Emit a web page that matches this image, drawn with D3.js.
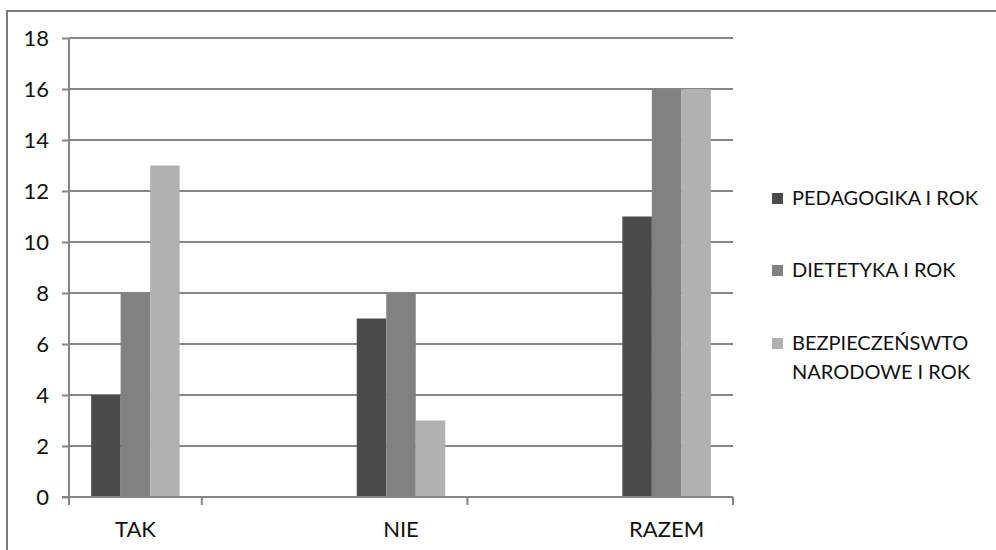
<!DOCTYPE html>
<html>
<head>
<meta charset="utf-8">
<script src="https://cdn.jsdelivr.net/npm/d3@7"></script>
<style>
  html, body { margin: 0; padding: 0; background: #fff; }
  svg { display: block; }
</style>
</head>
<body>
<svg id="chart" width="996" height="550"></svg>
<script>
const categories = ["TAK", "NIE", "RAZEM"];
const seriesNames = ["PEDAGOGIKA I ROK", "DIETETYKA I ROK", "BEZPIECZEŃSWTO NARODOWE I ROK"];
const legendLines = [["PEDAGOGIKA I ROK"], ["DIETETYKA I ROK"], ["BEZPIECZEŃSWTO", "NARODOWE I ROK"]];
const pedagogika = [4, 7, 11];
const dietetyka = [8, 8, 16];
const bezpieczenstwo = [13, 3, 16];
const yTicks = [0, 2, 4, 6, 8, 10, 12, 14, 16, 18];
const colors = ["#4b4b4b", "#818181", "#b1b1b1"];

const seriesValues = [pedagogika, dietetyka, bezpieczenstwo];

const svg = d3.select("#chart");
const font = "Lato, 'Open Sans', sans-serif";
const textColor = "#111";

// outer frame (left and top edges visible)
svg.append("path")
  .attr("d", "M7,550 V11 H996")
  .attr("fill", "none")
  .attr("stroke", "#7a7a7a")
  .attr("stroke-width", 2);

const plotLeft = 69, plotRight = 733, plotTop = 38, plotBottom = 497;
const step = (plotRight - plotLeft) / 2.5;

const x = d3.scaleBand()
  .domain(categories)
  .range([plotLeft - 0.25 * step, plotRight + 0.25 * step])
  .paddingInner(0).paddingOuter(0);

const barW = 29.5;
const xs = d3.scaleBand()
  .domain(seriesNames)
  .range([x.bandwidth() / 2 - 1.5 * barW, x.bandwidth() / 2 + 1.5 * barW]);

const y = d3.scaleLinear().domain([0, 18]).range([plotBottom, plotTop]);

const lineColor = "#858585";

// gridlines
svg.append("g").selectAll("line")
  .data(yTicks.filter(d => d > 0))
  .join("line")
  .attr("x1", plotLeft).attr("x2", plotRight)
  .attr("y1", d => y(d)).attr("y2", d => y(d))
  .attr("stroke", lineColor).attr("stroke-width", 2);

// bars
const g = svg.append("g");
categories.forEach((c, ci) => {
  seriesNames.forEach((s, si) => {
    const v = seriesValues[si][ci];
    g.append("rect")
      .attr("x", x(c) + xs(s))
      .attr("y", y(v))
      .attr("width", xs.bandwidth())
      .attr("height", y(0) - y(v))
      .attr("fill", colors[si]);
  });
});

// y axis
const yAxis = d3.axisLeft(y).tickValues(yTicks).tickSize(7).tickPadding(13);
const ya = svg.append("g").attr("transform", `translate(${plotLeft},0)`).call(yAxis);
ya.select(".domain").attr("d", `M0,${plotTop}V${plotBottom + 8}`)
  .attr("stroke", lineColor).attr("stroke-width", 2);
ya.selectAll(".tick line").attr("stroke", lineColor).attr("stroke-width", 2);
ya.selectAll(".tick text").attr("fill", textColor).style("font-family", font).style("font-size", "22px");

// x axis
const xa = svg.append("g").attr("transform", `translate(0,${plotBottom})`);
xa.append("line")
  .attr("x1", plotLeft - 7).attr("x2", plotRight)
  .attr("y1", 0).attr("y2", 0)
  .attr("stroke", lineColor).attr("stroke-width", 2);
xa.selectAll("line.tk")
  .data(categories)
  .join("line").attr("class", "tk")
  .attr("x1", d => x(d) + 0.75 * x.step()).attr("x2", d => x(d) + 0.75 * x.step())
  .attr("y1", 0).attr("y2", 8)
  .attr("stroke", lineColor).attr("stroke-width", 2);
xa.selectAll("text")
  .data(categories)
  .join("text")
  .attr("x", d => x(d) + x.bandwidth() / 2)
  .attr("y", 40)
  .attr("text-anchor", "middle")
  .attr("fill", textColor)
  .style("font-family", font).style("font-size", "22px")
  .text(d => d);

// legend
const legendY = [198, 270, 343];
const lg = svg.append("g");
seriesNames.forEach((s, i) => {
  lg.append("rect")
    .attr("x", 772).attr("y", legendY[i] - 5)
    .attr("width", 11).attr("height", 11)
    .attr("fill", colors[i]);
  legendLines[i].forEach((t, li) => {
    lg.append("text")
      .attr("x", 792).attr("y", legendY[i] + li * 29)
      .attr("dy", "0.36em")
      .attr("fill", textColor)
      .style("font-family", font).style("font-size", "20px")
      .text(t);
  });
});
</script>
</body>
</html>
